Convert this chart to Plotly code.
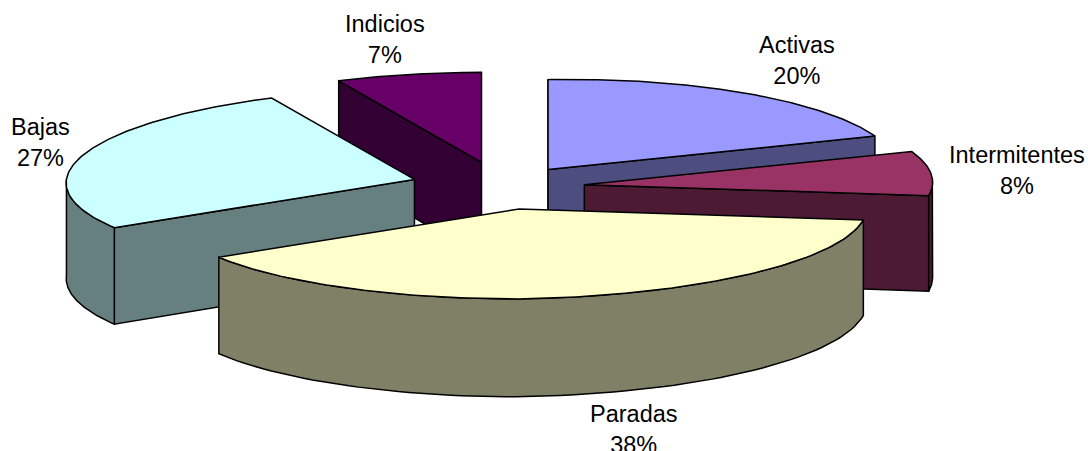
import numpy as np
import plotly.graph_objects as go

# Estado de las surgencias, en porcentaje
categories = ["Activas", "Intermitentes", "Paradas", "Bajas", "Indicios"]
shares = [20, 8, 38, 27, 7]
top_colors = ["#9999FF", "#993366", "#FFFFCC", "#CCFFFF", "#660066"]
side_colors = ["#4D4D80", "#4D1A33", "#808066", "#668080", "#330033"]
explode = [0.225, 0.237, 0.26, 0.262, 0.27]

# Layout of the tilted pie, in axis units (the axes span the page in pixels)
CX, CY = 502, 186
RX, RY = 348, 90
DEPTH = 95
PERSPECTIVE_X = 0.04   # far side of the pie draws narrower
PERSPECTIVE_D = 0.03   # near side of the pie draws taller
RIGHT_LIFT = 6         # the right flank sits a little higher
LABEL_SIZE = 23.5
label_x = [797, 1017, 634, 40, 385]
label_y = [60, 170, 429, 142, 39]
# Back-to-front paint order of the slices (indices into categories)
paint_order = [4, 0, 3, 1, 2]


def ellipse(theta, apex):
    x = apex[0] + RX * np.sin(theta) * (1 - PERSPECTIVE_X * np.cos(theta))
    y = apex[1] - RY * np.cos(theta) - RIGHT_LIFT * np.maximum(np.sin(theta), 0)
    return x, y


def depth(theta):
    return DEPTH * (1 - PERSPECTIVE_D * np.cos(theta))


def polygon(x, y, fill):
    return go.Scatter(
        x=list(x), y=list(y), mode="lines", fill="toself", fillcolor=fill,
        line=dict(color="black", width=1.5), hoverinfo="skip", showlegend=False,
    )


edges = np.radians(np.cumsum([0] + shares) * 3.6)
fig = go.Figure()

for i in paint_order:
    start, end = edges[i], edges[i + 1]
    mid = (start + end) / 2
    e = explode[i]
    apex = (CX + e * RX * np.sin(mid), CY - e * RY * np.cos(mid))
    mid_pt = ellipse(mid, apex)

    # Flat cut walls, only the ones turned towards the viewer
    for angle in (start, end):
        rx, ry = ellipse(angle, apex)
        cross = (rx - apex[0]) * (mid_pt[1] - apex[1]) - (ry - apex[1]) * (mid_pt[0] - apex[0])
        faces_front = (cross < 0) == (rx > apex[0])
        if faces_front:
            fig.add_trace(polygon(
                [apex[0], rx, rx, apex[0], apex[0]],
                [apex[1], ry, ry + depth(angle), apex[1] + DEPTH, apex[1]],
                side_colors[i],
            ))

    # Outer rim on the lower half of the ellipse
    lo, hi = max(start, np.pi / 2), min(end, 3 * np.pi / 2)
    if hi > lo:
        t = np.linspace(lo, hi, 80)
        ex, ey = ellipse(t, apex)
        fig.add_trace(polygon(
            np.r_[ex, ex[::-1], ex[0]],
            np.r_[ey, (ey + depth(t))[::-1], ey[0]],
            side_colors[i],
        ))

    # Top face
    t = np.linspace(start, end, 120)
    ex, ey = ellipse(t, apex)
    fig.add_trace(polygon(
        np.r_[apex[0], ex, apex[0]],
        np.r_[apex[1], ey, apex[1]],
        top_colors[i],
    ))

annotations = [
    dict(
        x=x, y=y, xref="x", yref="y", text=f"{name}<br>{share}%", showarrow=False,
        xanchor="center", yanchor="middle", align="center",
        font=dict(family="Liberation Sans", size=LABEL_SIZE, color="black"),
    )
    for name, share, x, y in zip(categories, shares, label_x, label_y)
]

fig.update_layout(
    width=1088, height=451, margin=dict(l=0, r=0, t=0, b=0),
    paper_bgcolor="white", plot_bgcolor="white", showlegend=False,
    xaxis=dict(range=[0, 1088], visible=False, fixedrange=True),
    yaxis=dict(range=[451, 0], visible=False, fixedrange=True),
    annotations=annotations,
)
fig.write_html("out.html", config={"displayModeBar": False})
